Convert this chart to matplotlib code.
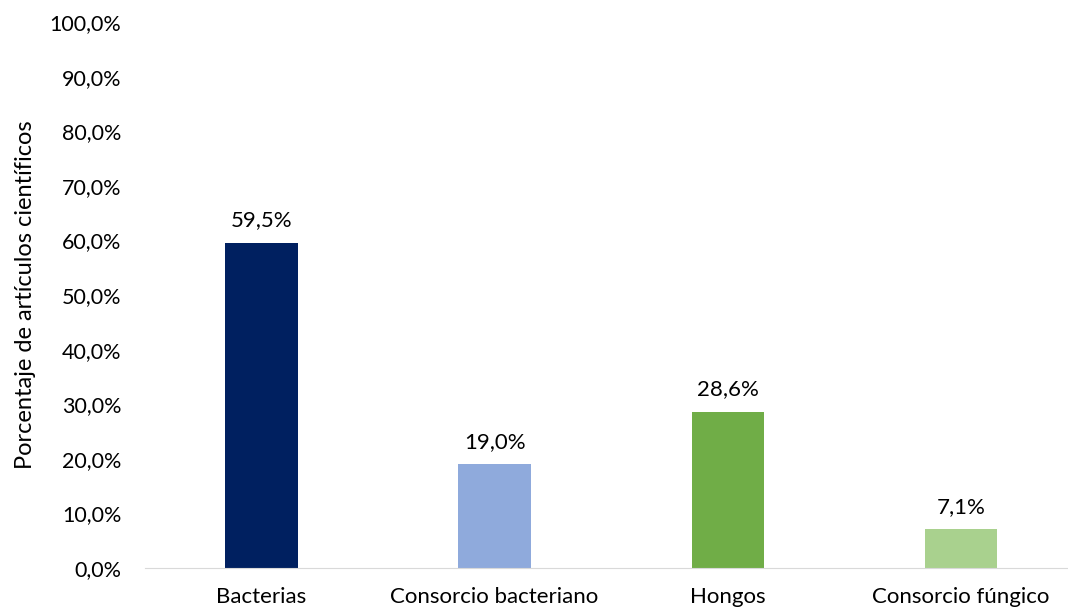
import matplotlib.pyplot as plt
import numpy as np

categorias = ['Bacterias', 'Consorcio bacteriano', 'Hongos', 'Consorcio fúngico']
porcentajes = [59.5, 19.0, 28.6, 7.1]
colores = ['#002060', '#8FAADC', '#70AD47', '#A9D18E']

plt.rcParams['font.family'] = ['Lato', 'DejaVu Sans']

fig = plt.figure(figsize=(10.68, 6.12), dpi=100)
ax = fig.add_axes((145/1068, 1 - 568/612, 923/1068, 546/612))

x = np.arange(len(categorias))
ax.bar(x, porcentajes, width=0.31, color=colores)

for xi, v in zip(x, porcentajes):
    ax.text(xi, v + 2.3, f'{v:.1f}%'.replace('.', ','), ha='center', va='bottom', fontsize=16)

ax.set_xlim(-0.5, 3.46)
ax.set_ylim(0, 100)
ax.set_yticks(np.arange(0, 101, 10))
ax.set_yticklabels([f'{t:.1f}%'.replace('.', ',') for t in np.arange(0, 101, 10)], fontsize=15.5)
ax.set_xticks(x)
ax.set_xticklabels(categorias, fontsize=16)
ax.tick_params(axis='both', length=0)
ax.tick_params(axis='y', pad=17)
ax.tick_params(axis='x', pad=14)

for s in ['top', 'right', 'left']:
    ax.spines[s].set_visible(False)
ax.spines['bottom'].set_color('#D9D9D9')

ax.set_ylabel('Porcentaje de artículos científicos', fontsize=17, labelpad=10)

fig.savefig('out.png', dpi=100)
